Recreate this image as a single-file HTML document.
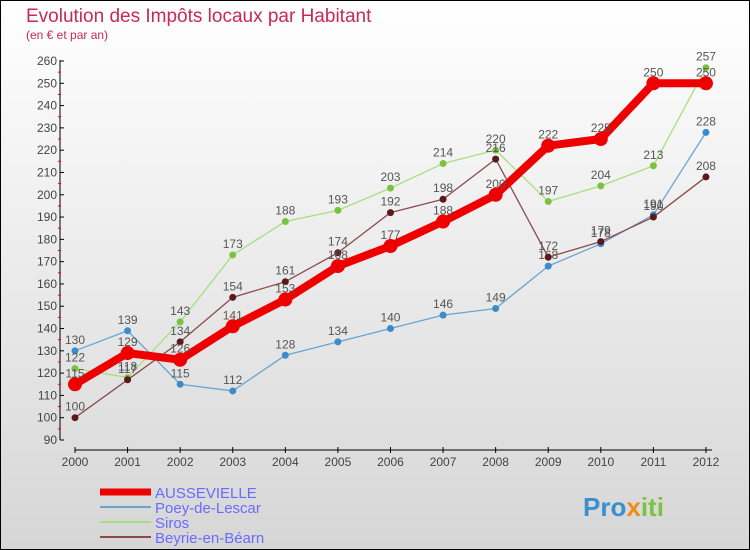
<!DOCTYPE html>
<html><head><meta charset="utf-8"><style>
body{margin:0}
svg{display:block;font-family:"Liberation Sans","DejaVu Sans",sans-serif}
</style></head><body>
<svg id="c" width="750" height="550" viewBox="0 0 750 550">
<defs><linearGradient id="bg" x1="0" y1="0" x2="0" y2="1"><stop offset="0" stop-color="#ffffff"/><stop offset="1" stop-color="#d6d6d6"/></linearGradient></defs>
<rect x="0.5" y="0.5" width="749" height="549" fill="url(#bg)" stroke="#000"/>
<text x="26" y="22" font-size="19" fill="#c8285a">Evolution des Impôts locaux par Habitant</text>
<text x="26" y="39" font-size="12" fill="#c8285a">(en € et par an)</text>
<g id="axes"></g><g id="series"></g><g id="legend"></g>
<text x="583" y="516" font-size="26" font-weight="bold" fill="#3a8fd0">Pro<tspan fill="#f08a1c">x</tspan><tspan fill="#7cc242">iti</tspan></text>
</svg>
<script>
const years=["2000","2001","2002","2003","2004","2005","2006","2007","2008","2009","2010","2011","2012"];
const yTicks=[90,100,110,120,130,140,150,160,170,180,190,200,210,220,230,240,250,260];
const aussevielle=[115,129,126,141,153,168,177,188,200,222,225,250,250];
const poey=[130,139,115,112,128,134,140,146,149,168,178,191,228];
const siros=[122,118,143,173,188,193,203,214,220,197,204,213,257];
const beyrie=[100,117,134,154,161,174,192,198,216,172,179,190,208];
const NS="http://www.w3.org/2000/svg";
const X=i=>75+i*52.58, Y=v=>440-(v-90)*(379/170);
function el(t,a,p){const e=document.createElementNS(NS,t);for(const k in a)e.setAttribute(k,a[k]);p.appendChild(e);return e;}
const ax=document.getElementById('axes');
let e=el('line',{x1:60,y1:Y(260)-1,x2:60,y2:440,stroke:'#000'},ax);


yTicks.forEach(v=>{el('line',{x1:60,y1:Y(v),x2:64,y2:Y(v),stroke:'#000'},ax);
 if(v<260)el('line',{x1:58,y1:Y(v+5),x2:61,y2:Y(v+5),stroke:'#e00'},ax);
 const t=el('text',{x:57,y:Y(v)+4,'font-size':12,fill:'#444','text-anchor':'end'},ax);t.textContent=v;
 
 });
e=el('line',{x1:75,y1:450,x2:712,y2:450,stroke:'#000'},ax);


years.forEach((y,i)=>{el('line',{x1:X(i),y1:447,x2:X(i),y2:453,stroke:'#000'},ax);
 const t=el('text',{x:X(i),y:466,'font-size':12,fill:'#444','text-anchor':'middle'},ax);t.textContent=y;
 
 });
const S=[
 {n:'Poey-de-Lescar',d:poey,c:'#6aa5d0',w:1.3,r:3.5,f:'#3a8ccc'},
 {n:'Siros',d:siros,c:'#a6e07c',w:1.3,r:3.5,f:'#7cc242'},
 {n:'Beyrie-en-Béarn',d:beyrie,c:'#8a4b4b',w:1.3,r:3.5,f:'#5a1a1a'},
 {n:'AUSSEVIELLE',d:aussevielle,c:'#ee0000',w:8,r:7,f:'#ee0000'}];
const sg=document.getElementById('series');
S.forEach(s=>{const g=el('g',{},sg);
 
 
 el('polyline',{points:s.d.map((v,i)=>X(i)+','+Y(v)).join(' '),fill:'none',stroke:s.c,'stroke-width':s.w,'stroke-linejoin':'round'},g);
 s.d.forEach((v,i)=>{const c=el('circle',{cx:X(i),cy:Y(v),r:s.r,fill:s.f},g);
  
  
  const t=el('text',{x:X(i),y:Y(v)-7,'font-size':12,fill:'#555','text-anchor':'middle'},g);t.textContent=v;
  
  });});
const lg=document.getElementById('legend');
[S[3],S[0],S[1],S[2]].forEach((s,k)=>{const y=492+k*15;const g=el('g',{},lg);
 
 
 el('line',{x1:100,y1:y,x2:151,y2:y,stroke:s.c,'stroke-width':k==0?7:2},g);
 const t=el('text',{x:155,y:y+6,'font-size':15,fill:'#6a6aff'},g);t.textContent=s.n;});
</script>
</body></html>
